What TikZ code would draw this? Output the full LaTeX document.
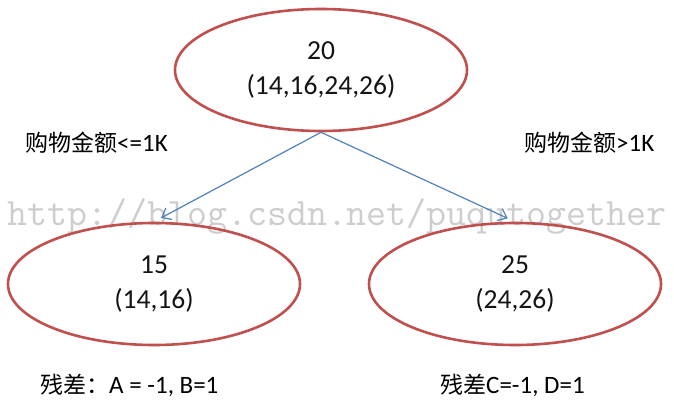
\documentclass[tikz,border=0pt]{standalone}
\usepackage{fontspec}
\setmainfont{Carlito}
\newfontfamily\cjk{Noto Sans CJK SC}
\newfontfamily\wmfont{Latin Modern Mono}
\usetikzlibrary{shapes.geometric,arrows.meta}
\tikzset{
  ell/.style={ellipse, draw={rgb,255:red,192;green,80;blue,77}, line width=2.6pt,
    minimum width=292pt, minimum height=122pt, inner sep=0pt, align=center,
    font=\fontsize{27.5}{35}\selectfont, text={rgb,255:red,20;green,20;blue,20}},
  conn/.style={draw={rgb,255:red,79;green,129;blue,189}, line width=1.2pt,
    -{Straight Barb[length=8pt,width=13pt]}, shorten >=8pt},
  lab/.style={font=\fontsize{25}{28}\selectfont, inner sep=0pt, anchor=west},
  wm/.style={font=\wmfont\fontsize{38.8}{38}\selectfont, text={rgb,255:red,205;green,205;blue,205}, inner sep=0pt, anchor=center}
}
\begin{document}
\begin{tikzpicture}[x=1pt,y=-1pt]
\useasboundingbox (0,0) rectangle (674,412);
\node[wm] (wm) at (337,216) {http://blog.csdn.net/puqutogether};
\node[ell] (top) at (321,70) {20\\(14,16,24,26)};
\node[ell] (left) at (154,284) {15\\(14,16)};
\node[ell] (right) at (515,284) {25\\(24,26)};
\draw[conn] (top.south) -- (left.north);
\draw[conn] (top.south) -- (right.north);
\node[lab] (l1) at (25,143) {{\fontsize{23}{28}\cjk 购物金额}<=1K};
\node[lab] (l2) at (524,143) {{\fontsize{23}{28}\cjk 购物金额}>1K};
\node[lab] (l3) at (40,385) {{\fontsize{23}{28}\cjk 残差：}A = -1, B=1};
\node[lab] (l4) at (440,385) {{\fontsize{23}{28}\cjk 残差}C=-1, D=1};
\end{tikzpicture}
\end{document}
